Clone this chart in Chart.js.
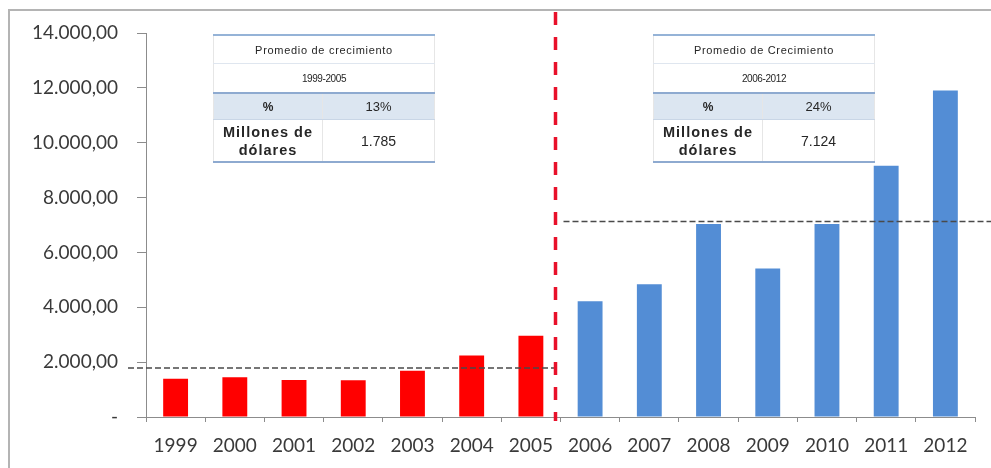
<!DOCTYPE html>
<html>
<head>
<meta charset="utf-8">
<script src="https://cdn.jsdelivr.net/npm/chart.js@4.4.0/dist/chart.umd.min.js"></script>
<style>
  html, body { margin: 0; padding: 0; background: #fff; }
  #wrap { position: relative; width: 991px; height: 468px; overflow: hidden; }
  #frame { position: absolute; left: 8px; top: 9px; width: 1000px; height: 500px;
           border-left: 2px solid #b4b4b4; border-top: 2px solid #b4b4b4; }
  canvas { position: absolute; left: 0; top: 0; }
  table.prom { position: absolute; top: 34px; width: 222px; border-collapse: collapse;
               font-family: "Liberation Sans", Arial, sans-serif; color: #262626; }
  table.prom td { text-align: center; padding: 0; border-left: 1px solid #e6e6e6; border-right: 1px solid #e6e6e6; }
  table.prom tr.r1 td { height: 27px; font-size: 11px; letter-spacing: 0.7px; border-top: 2px solid #95b3d7; border-bottom: 1px solid #dfe6ef; }
  table.prom tr.r2 td { height: 28px; font-size: 10px; letter-spacing: -0.4px; border-bottom: 2px solid #8eaad0; }
  table.prom tr.r3 td { height: 25px; background: #dce6f1; font-size: 13px; border-bottom: 1px solid #c9d6e6; }
  table.prom tr.r3 td.k { font-weight: bold; font-size: 12px; }
  table.prom tr.r4 td { height: 41px; font-size: 14px; border-bottom: 2px solid #8eaad0; }
  table.prom tr.r4 td.k { font-weight: bold; font-size: 14.5px; letter-spacing: 1px; line-height: 18px; width: 108px; }
</style>
</head>
<body>
<div id="wrap">
  <div id="frame"></div>
  <canvas id="barChart" width="991" height="468"></canvas>
</div>
<script>
const anios = ["1999","2000","2001","2002","2003","2004","2005",
               "2006","2007","2008","2009","2010","2011","2012"];
const valores = [1390, 1450, 1350, 1340, 1690, 2240, 2960,
                 4220, 4840, 7040, 5410, 7040, 9160, 11900];
const colores = ["#ff0000","#ff0000","#ff0000","#ff0000","#ff0000","#ff0000","#ff0000",
                 "#538dd5","#538dd5","#538dd5","#538dd5","#538dd5","#538dd5","#538dd5"];
const titulos = ["Promedio de crecimiento", "Promedio de Crecimiento"];
const periodos = ["1999-2005", "2006-2012"];
const tasas = ["13%", "24%"];
const promedios = [1785, 7124];
const promediosTexto = ["1.785", "7.124"];
const corte = 7; // first index of the second period

// tables
const tablaLeft = [213, 653];
for (let t = 0; t < 2; t++) {
  const tb = document.createElement("table");
  tb.className = "prom";
  tb.style.left = tablaLeft[t] + "px";
  tb.innerHTML =
    '<tr class="r1"><td colspan="2">' + titulos[t] + '</td></tr>' +
    '<tr class="r2"><td colspan="2">' + periodos[t] + '</td></tr>' +
    '<tr class="r3"><td class="k">%</td><td>' + tasas[t] + '</td></tr>' +
    '<tr class="r4"><td class="k">Millones de<br>dólares</td><td>' + promediosTexto[t] + '</td></tr>';
  document.getElementById("wrap").appendChild(tb);
}

function fmt(v) {
  if (v === 0) return "-";
  return v.toLocaleString("de-DE", { minimumFractionDigits: 2, maximumFractionDigits: 2 });
}

const lineasPlugin = {
  id: "lineas",
  afterDatasetsDraw(chart) {
    const ctx = chart.ctx;
    const x = chart.scales.x, y = chart.scales.y;
    const area = chart.chartArea;
    const xc = (x.getPixelForValue(corte - 1) + x.getPixelForValue(corte)) / 2 - 5;
    ctx.save();
    // average lines
    ctx.strokeStyle = "#4a4a4a";
    ctx.lineWidth = 1.5;
    ctx.setLineDash([6, 3]);
    let yy = y.getPixelForValue(promedios[0]);
    ctx.beginPath(); ctx.moveTo(area.left - 18, yy); ctx.lineTo(xc, yy); ctx.stroke();
    yy = y.getPixelForValue(promedios[1]);
    ctx.beginPath(); ctx.moveTo(xc + 8, yy); ctx.lineTo(chart.width, yy); ctx.stroke();
    // red divider
    ctx.strokeStyle = "#e8102a";
    ctx.lineWidth = 3.5;
    ctx.setLineDash([13, 12]);
    ctx.beginPath(); ctx.moveTo(xc, 12); ctx.lineTo(xc, area.bottom + 4); ctx.stroke();
    ctx.restore();
  }
};

const data = {
  labels: anios,
  datasets: [{
    data: valores,
    backgroundColor: colores,
    borderWidth: 0,
    barPercentage: 0.42,
    categoryPercentage: 1,
  }],
};

const config = {
  type: "bar",
  data: data,
  plugins: [lineasPlugin],
  options: {
    responsive: false,
    animation: false,
    layout: { padding: { top: 33, right: 16, left: 0, bottom: 0 } },
    plugins: { legend: { display: false }, tooltip: { enabled: false } },
    scales: {
      y: {
        min: 0,
        max: 14000,
        afterFit: (s) => { s.width = 146; },
        ticks: {
          stepSize: 2000,
          callback: (v) => fmt(v),
          color: "#3a3a3a",
          padding: 19,
          font: { family: "Lato", size: 19 },
        },
        grid: { drawOnChartArea: false, tickLength: 9, color: "#8c8c8c" },
        border: { color: "#8c8c8c", width: 1 },
      },
      x: {
        afterFit: (s) => { s.height = 51; },
        ticks: {
          color: "#3a3a3a",
          padding: 12,
          font: { family: "Lato", size: 19 },
        },
        grid: { drawOnChartArea: false, tickLength: 5, color: "#8c8c8c" },
        border: { color: "#8c8c8c", width: 1 },
      },
    },
  },
};

const chart = new Chart(document.getElementById("barChart"), config);
</script>
</body>
</html>
